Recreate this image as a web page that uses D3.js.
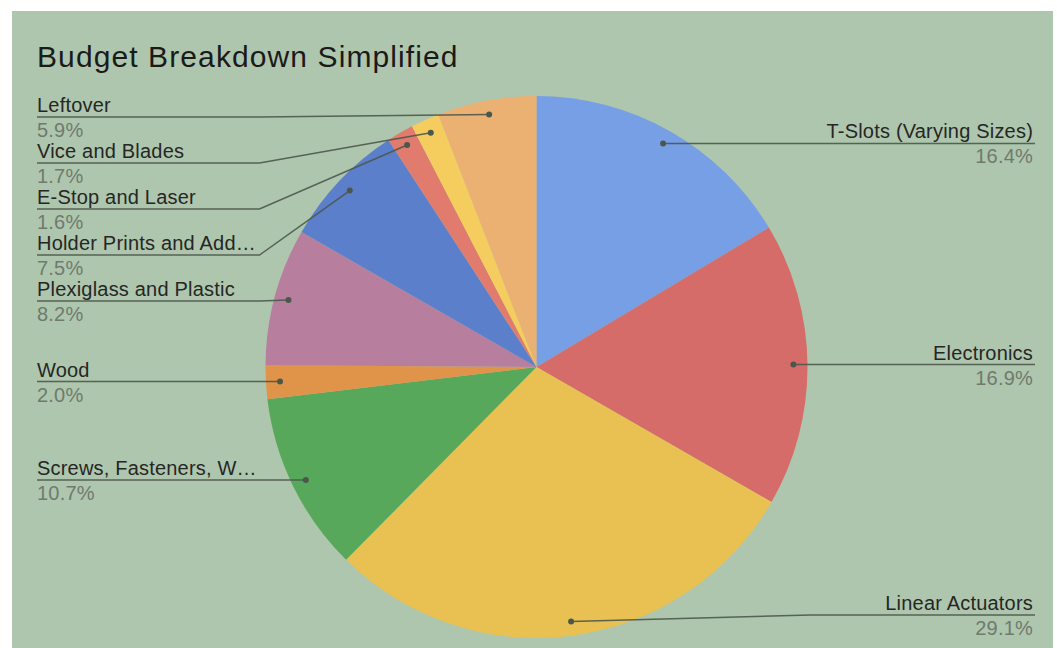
<!DOCTYPE html>
<html><head><meta charset="utf-8">
<script src="https://cdn.jsdelivr.net/npm/d3@7"></script>
<style>html,body{margin:0;padding:0;background:#fff;}svg{display:block;}</style>
</head><body>
<svg id="chart" width="1057" height="648"></svg>
<script>
const title = "Budget Breakdown Simplified";
const categories = ["T-Slots (Varying Sizes)", "Electronics", "Linear Actuators", "Screws, Fasteners, W…", "Wood", "Plexiglass and Plastic", "Holder Prints and Add…", "E-Stop and Laser", "Vice and Blades", "Leftover"];
const values = [16.4, 16.9, 29.1, 10.7, 2.0, 8.2, 7.5, 1.6, 1.7, 5.9];
const colors = ["#779fe5", "#d56c6a", "#e9c152", "#58a85b", "#df9449", "#b87e9e", "#5b7fcb", "#e07b6e", "#f4cd5e", "#ebb173"];

const svg = d3.select("#chart");
svg.append("rect").attr("x", 12).attr("y", 11).attr("width", 1041).attr("height", 637).attr("fill", "#aec6ad");

const font = "Liberation Sans, Arial, sans-serif";
svg.append("text").attr("x", 37).attr("y", 67).attr("font-family", font)
  .attr("font-size", 30).attr("letter-spacing", 1.1).attr("fill", "#1a1a1a").text(title);

const cx = 536.5, cy = 367, r = 271;
const g = svg.append("g").attr("transform", `translate(${cx},${cy})`);
const pie = d3.pie().sort(null).value(d => d.v);
const data = categories.map((c, i) => ({name: c, v: values[i], color: colors[i]}));
const arcs = pie(data);
const arc = d3.arc().innerRadius(0).outerRadius(r);
g.selectAll("path").data(arcs).join("path").attr("d", arc).attr("fill", d => d.data.color);

const total = d3.sum(values);
const fmt = v => (v / total * 100).toFixed(1) + "%";

const pts = arcs.map(a => {
  const m = (a.startAngle + a.endAngle) / 2;
  const rr = r * 0.948;
  return {a, x: cx + rr * Math.sin(m), y: cy - rr * Math.cos(m), right: m < Math.PI};
});

const topY = 117, botY = 615, gap = 46;
function layout(list) {
  list.sort((p, q) => p.y - q.y);
  let prev = -Infinity;
  list.forEach(p => { p.ly = Math.max(p.y, topY, prev + gap); prev = p.ly; });
  let next = Infinity;
  for (let i = list.length - 1; i >= 0; i--) {
    const p = list[i];
    p.ly = Math.min(p.ly, botY, next - gap); next = p.ly;
  }
}
layout(pts.filter(p => !p.right)); layout(pts.filter(p => p.right));

const lineCol = "#4c574c";
pts.forEach(p => {
  const isR = p.right;
  const tx = isR ? 1033 : 37;
  const lineEnd = isR ? 1035 : 37;
  const elbow = isR ? cx + r + 3 : cx - r - 6;
  svg.append("polyline")
    .attr("points", `${p.x},${p.y} ${elbow},${p.ly} ${lineEnd},${p.ly}`)
    .attr("fill", "none").attr("stroke", lineCol).attr("stroke-width", 1.5).attr("stroke-opacity", 0.9);
  svg.append("circle").attr("cx", p.x).attr("cy", p.y).attr("r", 3).attr("fill", lineCol);
  svg.append("text").attr("x", tx).attr("y", p.ly - 5)
    .attr("text-anchor", isR ? "end" : "start")
    .attr("font-family", font).attr("font-size", 20).attr("letter-spacing", 0.2)
    .attr("fill", "#262626").text(p.a.data.name);
  svg.append("text").attr("x", tx).attr("y", p.ly + 20)
    .attr("text-anchor", isR ? "end" : "start")
    .attr("font-family", font).attr("font-size", 20).attr("letter-spacing", 0.2)
    .attr("fill", "#6f7a6f").text(fmt(p.a.data.v));
});
</script>
</body></html>
